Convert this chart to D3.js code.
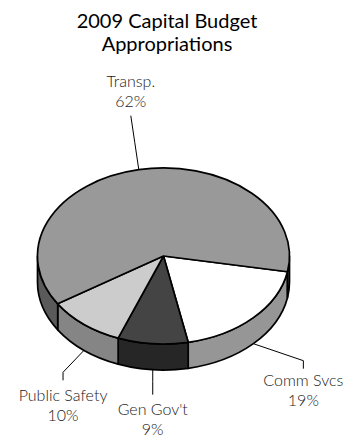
<!DOCTYPE html>
<html>
<head>
<meta charset="utf-8">
<script src="https://cdn.jsdelivr.net/npm/d3@7"></script>
<style>
  html, body { margin: 0; padding: 0; background: #fff; }
  svg { display: block; }
</style>
</head>
<body>
<svg id="chart" width="351" height="438"></svg>
<script>
// Budget shares, in drawing order (clockwise from the right-hand edge)
const categories = ["Comm Svcs", "Gen Gov't", "Public Safety", "Transp."];
const shares = [19, 9, 10, 62];
const shareLabels = ["19%", "9%", "10%", "62%"];

// Fills for the top face and the rim of each slice
const topColors  = ["#ffffff", "#444444", "#cccccc", "#999999"];
const sideColors = ["#969696", "#262626", "#858585", "#5a5a5a"];

const titleLines = ["2009 Capital Budget", "Appropriations"];

const width = 351, height = 438;
const cx = 163.5, cy = 256, rx = 126, ry = 88, depth = 26;

const svg = d3.select("#chart");

// Pie layout; d3.pie measures clockwise from 12 o'clock
const startDeg = 100.3;
const pie = d3.pie().sort(null).value(d => d.value)
  .startAngle(startDeg * Math.PI / 180)
  .endAngle(startDeg * Math.PI / 180 + 2 * Math.PI);

const data = categories.map((c, i) => ({
  name: c, value: shares[i], label: shareLabels[i],
  top: topColors[i], side: sideColors[i]
}));
const arcs = pie(data).map(a => ({
  ...a,
  // angle measured clockwise from 3 o'clock (screen y points down)
  t0: a.startAngle - Math.PI / 2,
  t1: a.endAngle - Math.PI / 2
}));

const px = t => cx + rx * Math.cos(t);
const py = t => cy + ry * Math.sin(t);

function topPath(t0, t1) {
  const large = (t1 - t0) > Math.PI ? 1 : 0;
  return `M${cx},${cy}L${px(t0)},${py(t0)}A${rx},${ry} 0 ${large} 1 ${px(t1)},${py(t1)}Z`;
}
function sidePath(t0, t1) {
  return `M${px(t0)},${py(t0)}A${rx},${ry} 0 0 1 ${px(t1)},${py(t1)}` +
         `L${px(t1)},${py(t1) + depth}A${rx},${ry} 0 0 0 ${px(t0)},${py(t0) + depth}Z`;
}

// Portions of a slice that face the viewer (angles 0..PI, modulo 2PI)
function visibleRanges(t0, t1) {
  const out = [];
  for (let k = -1; k <= 1; k++) {
    const lo = Math.max(t0, k * 2 * Math.PI), hi = Math.min(t1, k * 2 * Math.PI + Math.PI);
    if (hi > lo + 1e-6) out.push([lo, hi]);
  }
  return out;
}

const g = svg.append("g");

// rims first
arcs.forEach(a => {
  visibleRanges(a.t0, a.t1).forEach(([lo, hi]) => {
    g.append("path")
      .attr("d", sidePath(lo, hi))
      .attr("fill", a.data.side)
      .attr("stroke", "#000")
      .attr("stroke-width", 1.7)
      .attr("stroke-linejoin", "round");
  });
});

// top faces
arcs.forEach(a => {
  g.append("path")
    .attr("d", topPath(a.t0, a.t1))
    .attr("fill", a.data.top)
    .attr("stroke", "#000")
    .attr("stroke-width", 1.7)
    .attr("stroke-linejoin", "round");
});

// Leader lines and labels
const labelFont = "Lato, 'DejaVu Sans', sans-serif";
const leader = {
  "Comm Svcs":     { elbow: [50, 17], end: [50, 25], text: 17 },
  "Gen Gov't":     { elbow: [0, 12],  end: [0, 25],  text: 20 },
  "Public Safety": { elbow: [-21, 22], end: [-21, 30], text: 21 },
  "Transp.":       { elbow: [-4, -27], end: [-8, -54], text: -29 }
};
arcs.forEach(a => {
  const tm = (a.t0 + a.t1) / 2;
  const front = Math.sin(tm) > 0;
  const sx = px(tm), sy = py(tm) + (front ? depth : 0);
  const L = leader[a.data.name];
  const pts = [[sx, sy], [sx + L.elbow[0], sy + L.elbow[1]], [sx + L.end[0], sy + L.end[1]]];
  svg.append("path")
    .attr("d", d3.line()(pts))
    .attr("fill", "none")
    .attr("stroke", "#000")
    .attr("stroke-width", 1);
  const ex = pts[2][0], ey = pts[2][1];
  const t = svg.append("text")
    .attr("x", ex)
    .attr("y", ey + L.text)
    .attr("text-anchor", "middle")
    .attr("font-family", labelFont)
    .attr("font-weight", 300)
    .attr("font-size", 16)
    .attr("fill", "#1a1a1a");
  t.append("tspan").attr("x", ex).attr("dy", 0).text(a.data.name);
  t.append("tspan").attr("x", ex).attr("dy", 20).text(a.data.label);
});

// Title
const title = svg.append("text")
  .attr("x", 167)
  .attr("y", 28)
  .attr("text-anchor", "middle")
  .attr("font-family", labelFont)
  .attr("font-size", 20)
  .attr("fill", "#000");
titleLines.forEach((s, i) => {
  title.append("tspan").attr("x", 167).attr("dy", i ? 23 : 0).text(s);
});
</script>
</body>
</html>
